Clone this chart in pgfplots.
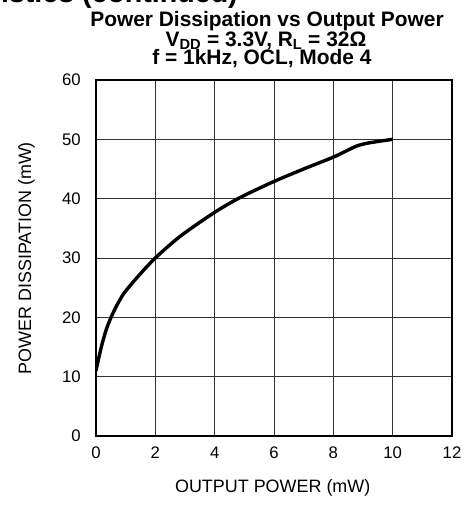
\documentclass[border=0pt]{standalone}
\usepackage{pgfplots}
\pgfplotsset{compat=1.18}
\usepackage{fontspec}
\setmainfont{Liberation Sans}
\begin{document}
\begin{tikzpicture}
\begin{axis}[
  at={(96bp,76bp)}, anchor=south west,
  width=356bp, height=356bp, scale only axis,
  xmin=0, xmax=12, ymin=0, ymax=60,
  xtick={0,2,...,12}, ytick={0,10,...,60},
  grid=major,
  grid style={black!80, line width=1bp},
  axis line style={black, line width=2bp},
  major tick length=0pt,
  tick style={draw=none},
  /pgf/number format/assume math mode=true,
  tick label style={font=\fontsize{16.8}{16.8}\selectfont, inner sep=0pt},
  xticklabel shift=11bp,
  yticklabel shift=15bp,
]
\addplot[black, line width=3.4bp, smooth, tension=0.5] coordinates {
(0,11) (0.1,13.3) (0.21,15.6) (0.35,18) (0.5,19.9) (0.7,22) (0.95,24.1)
(1.4,26.8) (2,30) (2.85,33.7) (4,37.7) (4.86,40.2) (6,42.9) (7,45)
(8,47) (8.5,48.2) (8.8,48.9) (9.2,49.4) (10,50)
};
\end{axis}
\node[anchor=base, font=\fontsize{21}{21}\selectfont\bfseries] at (267bp,485.3bp) {Power Dissipation vs Output Power};
\node[anchor=base, font=\fontsize{21}{21}\selectfont\bfseries] at (266bp,465.3bp) {V\textsubscript{DD} = 3.3V, R\textsubscript{L} = 32Ω};
\node[anchor=base, font=\fontsize{21}{21}\selectfont\bfseries] at (262bp,447bp) {f = 1kHz, OCL, Mode 4};
\node[anchor=base, font=\fontsize{18}{18}\selectfont] at (272.7bp,19.3bp) {OUTPUT POWER (mW)};
\node[anchor=base, rotate=90, font=\fontsize{18}{18}\selectfont] at (31bp,253.7bp) {POWER DISSIPATION (mW)};
\begin{scope}
\clip (0,0) rectangle (467bp,512bp);
\node[anchor=base east, inner sep=0pt, font=\fontsize{28.7}{28.7}\selectfont\bfseries] at (238bp,509bp) {Characteristics (continued)};
\end{scope}
\pgfresetboundingbox
\path[use as bounding box] (0,0) rectangle (467bp,512bp);
\end{tikzpicture}
\end{document}
